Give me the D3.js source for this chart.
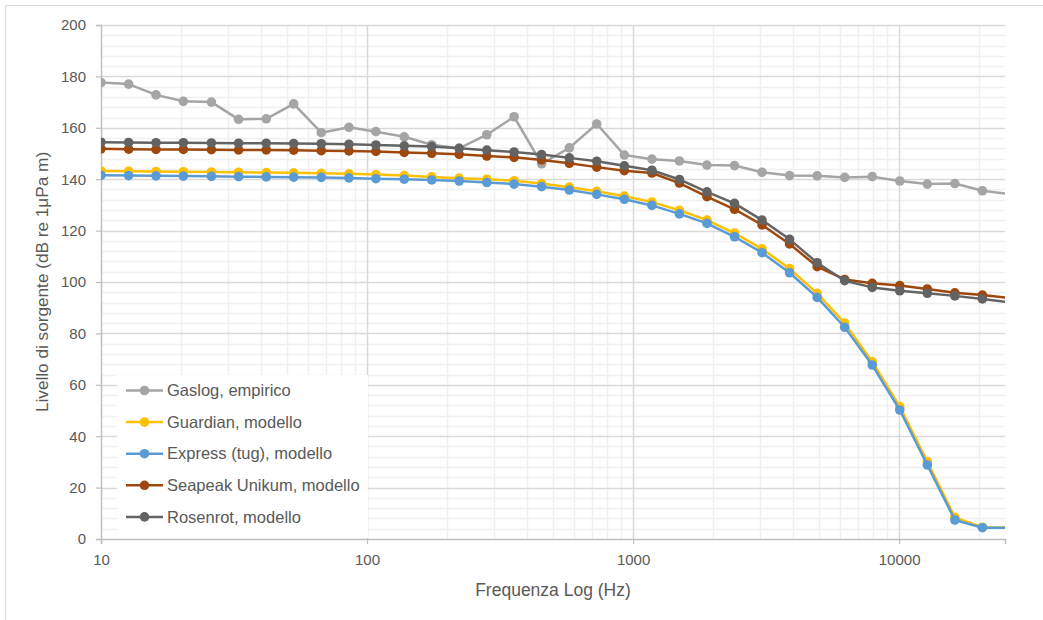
<!DOCTYPE html>
<html>
<head>
<meta charset="utf-8">
<script src="https://cdn.jsdelivr.net/npm/d3@7"></script>
<style>
  body { margin: 0; background: #fff; }
  text { font-family: "Liberation Sans", Arial, sans-serif; fill: #595959; }
</style>
</head>
<body>
<svg id="chart" width="1043" height="620"></svg>
<script>
// frequencies as placed on the log axis (Hz)
var freqs = [10, 12.7, 16.1, 20.4, 26, 32.9, 41.8, 53, 67.3, 85.5, 108, 138, 175, 222, 282, 357, 453, 576,
  730, 927, 1177, 1493, 1895, 2405, 3053, 3875, 4918, 6242, 7922, 10055, 12762, 16197, 20557, 26090];

var gaslog = [177.6, 177.0, 172.8, 170.3, 170.0, 163.3, 163.5, 169.3, 158.1, 160.2, 158.5, 156.5, 153.4, 152.0,
  157.3, 164.3, 146.0, 152.2, 161.5, 149.4, 147.8, 147.1, 145.5, 145.3, 142.7, 141.4, 141.3, 140.7, 141.0,
  139.3, 138.1, 138.3, 135.5, 134.2];
var guardian = [143.2, 143.1, 143.0, 142.9, 142.8, 142.7, 142.6, 142.5, 142.3, 142.1, 141.8, 141.4, 140.9, 140.4,
  140.0, 139.4, 138.3, 136.9, 135.3, 133.4, 131.1, 127.9, 124.1, 119.0, 112.9, 105.2, 95.6, 84.0, 69.0,
  51.5, 30.1, 8.4, 4.6, 4.5];
var express = [141.5, 141.4, 141.3, 141.2, 141.1, 141.0, 140.9, 140.8, 140.7, 140.5, 140.2, 140.0, 139.7, 139.3,
  138.7, 138.1, 137.1, 135.8, 134.1, 132.2, 129.8, 126.5, 122.8, 117.6, 111.4, 103.6, 94.0, 82.4, 67.7,
  50.2, 28.8, 7.4, 4.4, 4.4];
var seapeak = [151.8, 151.7, 151.6, 151.6, 151.5, 151.4, 151.4, 151.3, 151.1, 151.0, 150.8, 150.4, 150.1, 149.7,
  149.0, 148.5, 147.5, 146.2, 144.7, 143.3, 142.4, 138.5, 133.2, 128.3, 122.2, 114.8, 106.0, 101.0, 99.5,
  98.6, 97.3, 95.8, 94.9, 93.8];
var rosenrot = [154.4, 154.3, 154.2, 154.2, 154.1, 154.0, 154.0, 153.9, 153.8, 153.6, 153.3, 153.0, 152.7, 152.0,
  151.3, 150.6, 149.6, 148.3, 147.0, 145.2, 143.5, 139.9, 135.1, 130.6, 124.1, 116.6, 107.5, 100.5, 97.9,
  96.6, 95.6, 94.6, 93.4, 92.1];

var seriesNames = ["Gaslog, empirico", "Guardian, modello", "Express (tug), modello", "Seapeak Unikum, modello", "Rosenrot, modello"];
var seriesColors = ["#a5a5a5", "#ffc000", "#5b9bd5", "#9e480e", "#636363"];
var seriesValues = [gaslog, guardian, express, seapeak, rosenrot];

var xTicks = [10, 100, 1000, 10000];
var yTicks = d3.range(0, 201, 20);

var svg = d3.select("#chart"),
  pLeft = 101, pRight = 1005, pTop = 25, pBottom = 539;

// outer chart frame
svg.append("rect")
  .attr("x", 5.5).attr("y", 5.5)
  .attr("width", 1060).attr("height", 640)
  .attr("fill", "#fff").attr("stroke", "#d9d9d9");

var x = d3.scaleLog().domain([10, 25000]).range([pLeft, pRight]),
  y = d3.scaleLinear().domain([0, 200]).range([pBottom, pTop]);

// minor grid
var xMinor = [];
[10, 100, 1000, 10000].forEach(function (p) {
  for (var k = 2; k <= 9; k++) if (p * k <= 25000) xMinor.push(p * k);
});
var yMinor = d3.range(0, 201, 4).filter(function (v) { return v % 20 !== 0; });

svg.append("g").selectAll("line").data(xMinor).enter().append("line")
  .attr("x1", function (d) { return Math.round(x(d)) + 0.5; })
  .attr("x2", function (d) { return Math.round(x(d)) + 0.5; })
  .attr("y1", pTop).attr("y2", pBottom)
  .attr("stroke", "#f0f0f0").attr("stroke-width", 1.5);

svg.append("g").selectAll("line").data(yMinor).enter().append("line")
  .attr("x1", pLeft).attr("x2", pRight)
  .attr("y1", function (d) { return Math.round(y(d)) + 0.5; })
  .attr("y2", function (d) { return Math.round(y(d)) + 0.5; })
  .attr("stroke", "#f0f0f0").attr("stroke-width", 1.5);

// major grid
svg.append("g").selectAll("line").data(xTicks.slice(1)).enter().append("line")
  .attr("x1", function (d) { return Math.round(x(d)) + 0.5; })
  .attr("x2", function (d) { return Math.round(x(d)) + 0.5; })
  .attr("y1", pTop).attr("y2", pBottom)
  .attr("stroke", "#d9d9d9").attr("stroke-width", 1.5);

svg.append("g").selectAll("line").data(yTicks.slice(1)).enter().append("line")
  .attr("x1", pLeft).attr("x2", pRight)
  .attr("y1", function (d) { return Math.round(y(d)) + 0.5; })
  .attr("y2", function (d) { return Math.round(y(d)) + 0.5; })
  .attr("stroke", "#d9d9d9").attr("stroke-width", 1.5);

// axes
var xAxis = svg.append("g")
  .attr("transform", "translate(0," + pBottom + ")")
  .call(d3.axisBottom(x).tickValues(xTicks).tickFormat(d3.format("d")).tickSize(5).tickPadding(10));
var yAxis = svg.append("g")
  .attr("transform", "translate(" + pLeft + ",0)")
  .call(d3.axisLeft(y).tickValues(yTicks).tickSize(5).tickPadding(10));

[xAxis, yAxis].forEach(function (a) {
  a.select(".domain").attr("stroke", "#bfbfbf").attr("stroke-width", 1.5);
  a.selectAll(".tick line").attr("stroke", "#bfbfbf").attr("stroke-width", 1.2);
  a.selectAll(".tick text").attr("fill", "#595959").style("font-size", "15px")
    .style("font-family", "'Liberation Sans', Arial, sans-serif");
});

// series
svg.append("clipPath").attr("id", "plot-clip")
  .append("rect").attr("x", pLeft).attr("y", 0).attr("width", pRight - pLeft).attr("height", pBottom + 10);

var line = d3.line()
  .x(function (d) { return x(d[0]); })
  .y(function (d) { return y(d[1]); });

var plot = svg.append("g").attr("clip-path", "url(#plot-clip)");

seriesValues.forEach(function (vals, i) {
  var pts = freqs.map(function (f, j) { return [f, vals[j]]; });
  plot.append("path")
    .datum(pts)
    .attr("fill", "none")
    .attr("stroke", seriesColors[i])
    .attr("stroke-width", 2.5)
    .attr("stroke-linejoin", "round")
    .attr("d", line);
  plot.selectAll(".pt" + i)
    .data(pts)
    .enter().append("circle")
    .attr("class", "pt" + i)
    .attr("cx", function (d) { return x(d[0]); })
    .attr("cy", function (d) { return y(d[1]); })
    .attr("r", 4.8)
    .attr("fill", seriesColors[i]);
});

// legend
var legend = svg.append("g");
legend.append("rect")
  .attr("x", 117).attr("y", 375).attr("width", 251).attr("height", 163)
  .attr("fill", "#fff");

var item = legend.selectAll(".item")
  .data(seriesNames)
  .enter().append("g")
  .attr("class", "item")
  .attr("transform", function (d, i) { return "translate(0," + (390.5 + i * 31.6) + ")"; });

item.append("line")
  .attr("x1", 126).attr("x2", 163)
  .attr("stroke", function (d, i) { return seriesColors[i]; })
  .attr("stroke-width", 2.5);
item.append("circle")
  .attr("cx", 144.5).attr("r", 4.8)
  .attr("fill", function (d, i) { return seriesColors[i]; });
item.append("text")
  .attr("x", 167).attr("dy", "0.35em")
  .style("font-size", "16.5px")
  .text(function (d) { return d; });

// axis titles
svg.append("text")
  .attr("x", 553).attr("y", 596)
  .attr("text-anchor", "middle")
  .style("font-size", "17.5px")
  .text("Frequenza Log (Hz)");

svg.append("text")
  .attr("transform", "translate(48," + ((pTop + pBottom) / 2) + ") rotate(-90)")
  .attr("text-anchor", "middle")
  .style("font-size", "17.2px")
  .text("Livello di sorgente (dB re 1μPa m)");
</script>
</body>
</html>
